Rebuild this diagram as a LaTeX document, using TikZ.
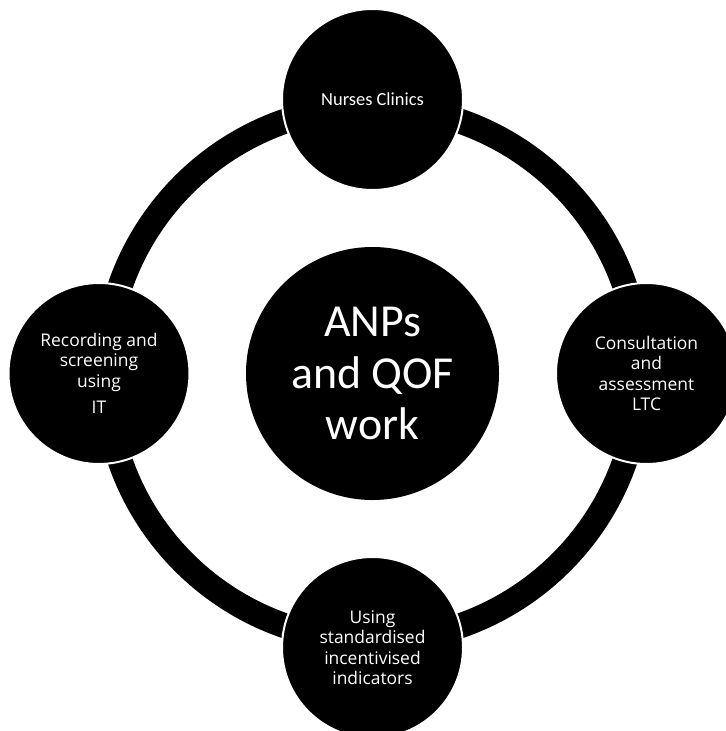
\documentclass[tikz,border=0pt]{standalone}
\usepackage{fontspec}
\setmainfont{Carlito}
\newfontfamily\apfont{Open Sans}
\begin{document}
\begin{tikzpicture}[x=1bp,y=-1bp,
  hub/.style={circle,fill=black,inner sep=0pt,minimum size=253bp,text=white,align=center,
    font=\fontsize{46}{51.5}\selectfont},
  sat/.style={circle,fill=black,draw=white,line width=2bp,inner sep=0pt,minimum size=181bp,
    text=white,align=center,font=\apfont\fontsize{17.5}{20.6}\selectfont},
  ring/.style={draw=black,line width=25bp}]
\useasboundingbox (0,0) rectangle (726,731);
\begin{scope}
\clip (0,0) rectangle (726,731);
\coordinate (c) at (372.5,373.5);
\draw[ring] (c) circle[radius=267];
\node[hub] (hub) at (c) {ANPs\\and QOF\\work};
\node[sat,font=\fontsize{18.5}{22}\selectfont] (top) at (372.5,99.5) {Nurses Clinics};
\node[sat] (left) at (99,373.5) {Recording and\\screening\\using\\[6bp]IT};
\node[sat] (right) at (646.5,373.5) {Consultation\\and\\assessment\\LTC};
\node[sat] (bottom) at (372.5,647.5) {Using\\standardised\\incentivised\\indicators};
\end{scope}
\end{tikzpicture}
\end{document}
